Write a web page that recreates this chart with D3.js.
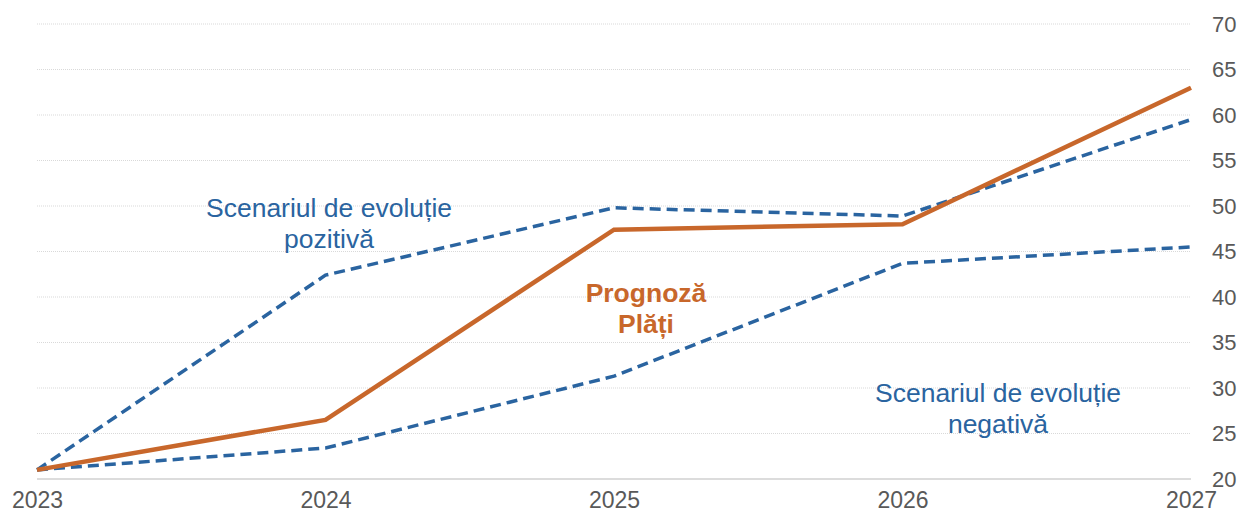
<!DOCTYPE html>
<html>
<head>
<meta charset="utf-8">
<script src="https://cdn.jsdelivr.net/npm/d3@7"></script>
<style>
  body { margin: 0; background: #fff; }
  text { font-family: "Liberation Sans", Arial, sans-serif; }
</style>
</head>
<body>
<svg id="chart"></svg>
<script>
// Chart data
const years = [2023, 2024, 2025, 2026, 2027];
const positiveScenario = [21, 42.4, 49.8, 48.9, 59.5];
const forecastPayments = [21, 26.5, 47.4, 48.0, 63.0];
const negativeScenario = [21, 23.4, 31.3, 43.7, 45.5];
const yTicks = [20, 25, 30, 35, 40, 45, 50, 55, 60, 65, 70];

const width = 1241;
const height = 513;
const margin = { top: 24, right: 50, bottom: 34, left: 37 };

const blue = '#2A64A0';
const orange = '#C8672B';

const svg = d3.select('#chart')
    .attr('width', width)
    .attr('height', height);

const x = d3.scaleLinear()
    .domain([2023, 2027])
    .range([margin.left, width - margin.right]);

const y = d3.scaleLinear()
    .domain([20, 70])
    .range([height - margin.bottom, margin.top]);

// Gridlines
svg.append('g')
    .selectAll('line')
    .data(yTicks.filter(d => d !== 20))
    .enter().append('line')
    .attr('x1', x(2023))
    .attr('x2', x(2027))
    .attr('y1', d => y(d))
    .attr('y2', d => y(d))
    .attr('stroke', '#d9d9d9')
    .attr('stroke-width', 1)
    .attr('stroke-dasharray', '1,1');

// Baseline
svg.append('line')
    .attr('x1', x(2023))
    .attr('x2', x(2027))
    .attr('y1', y(20))
    .attr('y2', y(20))
    .attr('stroke', '#d0d0d0')
    .attr('stroke-width', 1.5);

// Right axis labels
const yAxis = d3.axisRight(y).tickValues(yTicks).tickSize(0).tickPadding(0);
const yg = svg.append('g')
    .attr('transform', `translate(${width - 29},0)`)
    .call(yAxis);
yg.select('.domain').remove();
yg.selectAll('text')
    .attr('font-size', 22)
    .attr('fill', '#595959')
    .attr('font-family', '"Liberation Sans", Arial, sans-serif');

// Bottom axis labels
const xAxis = d3.axisBottom(x).tickValues(years).tickFormat(d3.format('d')).tickSize(0).tickPadding(13);
const xg = svg.append('g')
    .attr('transform', `translate(0,${y(20)})`)
    .call(xAxis);
xg.select('.domain').remove();
xg.selectAll('text')
    .attr('font-size', 23)
    .attr('fill', '#595959')
    .attr('font-family', '"Liberation Sans", Arial, sans-serif');

// Lines
const line = d3.line()
    .x((d, i) => x(years[i]))
    .y(d => y(d));

svg.append('path')
    .datum(negativeScenario)
    .attr('d', line)
    .attr('fill', 'none')
    .attr('stroke', blue)
    .attr('stroke-width', 3.5)
    .attr('stroke-dasharray', '11,6');

svg.append('path')
    .datum(positiveScenario)
    .attr('d', line)
    .attr('fill', 'none')
    .attr('stroke', blue)
    .attr('stroke-width', 3.5)
    .attr('stroke-dasharray', '11,6');

svg.append('path')
    .datum(forecastPayments)
    .attr('d', line)
    .attr('fill', 'none')
    .attr('stroke', orange)
    .attr('stroke-width', 4.5);

// Annotations
const labels = [
    { lines: ['Scenariul de evoluție', 'pozitivă'], x: 329, y: 217, color: blue, weight: 'normal' },
    { lines: ['Prognoză', 'Plăți'], x: 646, y: 302, color: orange, weight: 'bold' },
    { lines: ['Scenariul de evoluție', 'negativă'], x: 998, y: 402, color: blue, weight: 'normal' }
];

labels.forEach(l => {
    const t = svg.append('text')
        .attr('text-anchor', 'middle')
        .attr('font-size', 26.5)
        .attr('font-weight', l.weight)
        .attr('fill', l.color);
    l.lines.forEach((s, i) => {
        t.append('tspan')
            .attr('x', l.x)
            .attr('y', l.y + i * 31)
            .text(s);
    });
});
</script>
</body>
</html>
